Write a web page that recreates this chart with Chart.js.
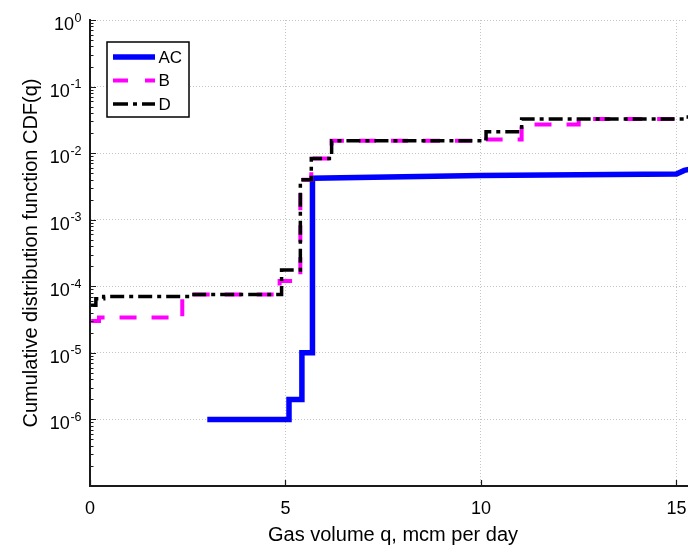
<!DOCTYPE html>
<html>
<head>
<meta charset="utf-8">
<script src="https://cdn.jsdelivr.net/npm/chart.js@4.4.1/dist/chart.umd.min.js"></script>
<style>
  html, body { margin: 0; padding: 0; background: #fff; }
  body { width: 688px; height: 548px; overflow: hidden; }
  canvas { display: block; }
</style>
</head>
<body>
<canvas id="myChart" width="700" height="548"></canvas>
<script>
// gas volume q (mcm per day) and CDF(q)
const qAC = [3.0, 5.09, 5.09, 5.42, 5.42, 5.69, 5.69, 10.0, 15.0, 15.2, 15.5];
const cdfAC = [1e-6, 1e-6, 2e-6, 2e-6, 1e-5, 1e-5, 4.2e-3, 4.6e-3, 4.85e-3, 5.5e-3, 6e-3];

const qB = [0.03, 0.23, 2.36, 4.85, 5.3, 5.38, 5.66, 6.18, 10.13, 11.04, 12.5, 15.5];
const cdfB = [3.0e-5, 3.4e-5, 7.5e-5, 1.2e-4, 1.5e-4, 4.0e-3, 8.3e-3, 1.53e-2, 1.6e-2, 2.7e-2, 3.25e-2, 3.25e-2];

const qD = [0.02, 0.15, 0.35, 2.6, 4.9, 5.38, 5.66, 6.18, 10.13, 11.04, 15.2, 15.5];
const cdfD = [5.2e-5, 6.5e-5, 7.0e-5, 7.5e-5, 1.75e-4, 4.0e-3, 8.3e-3, 1.53e-2, 2.1e-2, 3.25e-2, 3.5e-2, 3.5e-2];

const xTicks = [0, 5, 10, 15];
const yExps = [0, -1, -2, -3, -4, -5, -6, -7];
const labeledExps = [0, -1, -2, -3, -4, -5, -6];

const xTitle = "Gas volume q, mcm per day";
const yTitle = "Cumulative distribution function CDF(q)";

const FONT = "'Liberation Sans', Arial, sans-serif";
const AXIS = "#1a1a1a";

function toPoints(xs, ys) {
  return xs.map((x, i) => ({ x: x, y: ys[i] }));
}

// ticks, labels, titles and legend the MATLAB way
const axisDecor = {
  id: "axisDecor",
  afterDraw(chart) {
    const ctx = chart.ctx;
    const xs = chart.scales.x;
    const ys = chart.scales.y;
    const area = chart.chartArea;
    ctx.save();

    // y ticks, pointing inward
    ctx.strokeStyle = AXIS;
    ctx.lineWidth = 1.2;
    ctx.beginPath();
    yExps.forEach((e) => {
      for (let k = 1; k <= 9; k++) {
        const v = k * Math.pow(10, e);
        if (v > 1) break;
        const py = Math.round(ys.getPixelForValue(v)) + 0.5;
        const len = k === 1 ? 6 : 3.5;
        ctx.moveTo(area.left, py);
        ctx.lineTo(area.left + len, py);
      }
    });
    // x ticks
    xTicks.forEach((t) => {
      const px = Math.round(xs.getPixelForValue(t)) + 0.5;
      ctx.moveTo(px, area.bottom);
      ctx.lineTo(px, area.bottom - 6);
    });
    ctx.stroke();

    // y tick labels 10^n
    ctx.fillStyle = "#000";
    ctx.textAlign = "right";
    ctx.textBaseline = "alphabetic";
    labeledExps.forEach((e) => {
      const py = ys.getPixelForValue(Math.pow(10, e));
      const expText = e === 0 ? "0" : "-" + Math.abs(e);
      ctx.font = "12.5px " + FONT;
      const w = ctx.measureText(expText).width;
      ctx.fillText(expText, 81.5, py + 1.5);
      ctx.font = "18px " + FONT;
      ctx.fillText("10", 81.5 - w - 0.5, py + 10);
    });

    // x tick labels
    ctx.textAlign = "center";
    ctx.font = "18px " + FONT;
    xTicks.forEach((t) => {
      ctx.fillText(String(t), xs.getPixelForValue(t), 513.5);
    });

    // axis titles
    ctx.font = "20px " + FONT;
    ctx.fillText(xTitle, (area.left + area.right) / 2, 541);
    ctx.save();
    ctx.translate(36.5, (area.top + area.bottom) / 2);
    ctx.rotate(-Math.PI / 2);
    ctx.fillText(yTitle, 0, 0);
    ctx.restore();

    // legend box
    ctx.fillStyle = "#fff";
    ctx.fillRect(107, 42, 82, 75);
    ctx.strokeStyle = "#000";
    ctx.lineWidth = 1.5;
    ctx.strokeRect(107, 42, 82, 75);
    const rowY = [57, 80.5, 104];
    chart.data.datasets.forEach((ds, i) => {
      ctx.save();
      ctx.strokeStyle = ds.borderColor;
      ctx.lineWidth = ds.borderWidth;
      ctx.setLineDash(ds.legendDash || []);
      ctx.beginPath();
      ctx.moveTo(113, rowY[i]);
      ctx.lineTo(155, rowY[i]);
      ctx.stroke();
      ctx.restore();
      ctx.fillStyle = "#000";
      ctx.font = "17px " + FONT;
      ctx.textAlign = "left";
      ctx.textBaseline = "middle";
      ctx.fillText(ds.label, 158.5, rowY[i] + 1);
    });

    ctx.restore();
  }
};

const ctx = document.getElementById("myChart");

new Chart(ctx, {
  type: "line",
  data: {
    datasets: [
      {
        label: "AC",
        data: toPoints(qAC, cdfAC),
        borderColor: "#0000ff",
        borderWidth: 5.5,
        pointRadius: 0,
        order: 3,
        legendDash: [],
      },
      {
        label: "B",
        data: toPoints(qB, cdfB),
        borderColor: "#ff00ff",
        borderWidth: 4,
        borderDash: [17, 15],
        stepped: "before",
        pointRadius: 0,
        order: 2,
        legendDash: [15, 17],
      },
      {
        label: "D",
        data: toPoints(qD, cdfD),
        borderColor: "#000000",
        borderWidth: 3.5,
        borderDash: [14, 5, 4, 5],
        stepped: "before",
        pointRadius: 0,
        order: 1,
        legendDash: [15, 5, 4, 5],
      },
    ],
  },
  options: {
    responsive: false,
    animation: false,
    devicePixelRatio: 1,
    layout: { padding: { top: 20, right: 4, left: 0, bottom: 0 } },
    plugins: {
      legend: { display: false },
      tooltip: { enabled: false },
    },
    scales: {
      x: {
        type: "linear",
        min: 0,
        max: 15.5,
        afterBuildTicks: (s) => { s.ticks = xTicks.map((v) => ({ value: v })); },
        afterFit: (s) => { s.height = 62; },
        ticks: { display: false },
        grid: { color: "#c4c4c4", lineWidth: 1, drawTicks: false },
        border: { display: true, color: AXIS, width: 2, dash: [1, 2] },
      },
      y: {
        type: "logarithmic",
        min: 1e-7,
        max: 1,
        afterBuildTicks: (s) => { s.ticks = yExps.map((e) => ({ value: Math.pow(10, e) })); },
        afterFit: (s) => { s.width = 90; },
        ticks: { display: false },
        grid: { color: "#c4c4c4", lineWidth: 1, drawTicks: false },
        border: { display: true, color: AXIS, width: 2, dash: [1, 2] },
      },
    },
  },
  plugins: [axisDecor],
});
</script>
</body>
</html>
